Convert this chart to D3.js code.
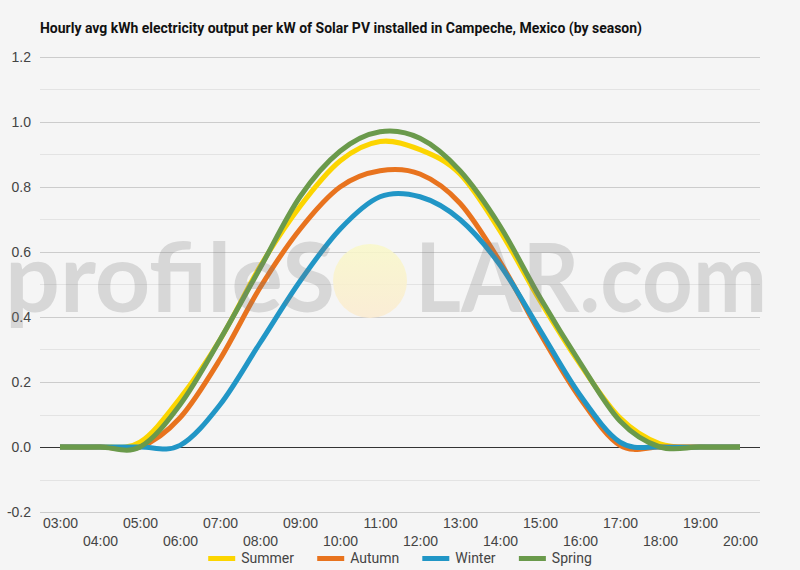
<!DOCTYPE html>
<html>
  <head>
    <meta charset="utf-8">
    <title>Solar PV output in Campeche, Mexico</title>
    <script src="https://cdn.jsdelivr.net/npm/d3@7"></script>
    <style>
      body { margin: 0; background: #f5f5f5; }
      #chart { display: block; font-family: Roboto, "Open Sans", sans-serif; }
      .title { font-size: 14px; font-weight: bold; fill: #111; }
      .tick text { font-size: 14px; fill: #444; }
      .legend text { font-size: 14px; fill: #444; }
      .watermark { font-family: Lato, sans-serif; font-weight: bold; font-size: 96px; fill: #7a7a7a; opacity: 0.24; }
    </style>
  </head>
  <body>
    <svg id="chart" width="800" height="570"></svg>
    <script>
      // chart data
      hours = ["03:00", "04:00", "05:00", "06:00", "07:00", "08:00", "09:00", "10:00", "11:00",
        "12:00", "13:00", "14:00", "15:00", "16:00", "17:00", "18:00", "19:00", "20:00"];
      summer = [0, 0, 0.015, 0.15, 0.33, 0.555, 0.74, 0.88, 0.94, 0.915, 0.84, 0.665, 0.45, 0.255, 0.09, 0.01, 0, 0];
      autumn = [0, 0, 0, 0.09, 0.27, 0.49, 0.67, 0.80, 0.85, 0.84, 0.75, 0.57, 0.35, 0.15, 0.005, 0, 0, 0];
      winter = [0, 0, 0, 0.005, 0.13, 0.32, 0.51, 0.67, 0.77, 0.77, 0.70, 0.56, 0.36, 0.16, 0.015, 0, 0, 0];
      spring = [0, 0, 0, 0.13, 0.33, 0.55, 0.77, 0.91, 0.97, 0.95, 0.85, 0.68, 0.46, 0.26, 0.08, 0, 0, 0];
      seasons = ["Summer", "Autumn", "Winter", "Spring"];
      colours = ["#fcd500", "#e8731e", "#2196c6", "#6a9a4b"];
      yTicks = [-0.2, 0, 0.2, 0.4, 0.6, 0.8, 1.0, 1.2];

      series = [summer, autumn, winter, spring].map(function(values, i) {
        return { name: seasons[i], colour: colours[i], values: values };
      });

      chart = d3.select("#chart");
      margin = { top: 57, right: 40, bottom: 58, left: 40 };
      width = 800;
      height = 570;

      // scales
      x = d3.scalePoint()
        .domain(hours)
        .range([margin.left, width - margin.right])
        .padding(0.5);
      y = d3.scaleLinear()
        .domain([-0.2, 1.2])
        .range([height - margin.bottom, margin.top]);

      // title
      chart.append("text")
        .attr("class", "title")
        .attr("x", 40)
        .attr("y", 33)
        .attr("textLength", 602)
        .attr("lengthAdjust", "spacingAndGlyphs")
        .text("Hourly avg kWh electricity output per kW of Solar PV installed in Campeche, Mexico (by season)");

      // minor gridlines
      chart.append("g")
        .selectAll("line")
          .data(d3.range(-0.1, 1.2, 0.2))
        .enter().append("line")
          .attr("x1", margin.left)
          .attr("x2", width - margin.right)
          .attr("y1", function(d) { return Math.round(y(d)) + 0.5; })
          .attr("y2", function(d) { return Math.round(y(d)) + 0.5; })
          .attr("stroke", "#e3e3e3");

      // y axis with major gridlines
      yAxis = d3.axisLeft(y)
        .tickValues(yTicks)
        .tickFormat(function(d) { return d3.format(".1f")(d).replace("\u2212", "-"); })
        .tickSize(margin.left + margin.right - width)
        .tickPadding(9);
      yAxisGroup = chart.append("g")
        .attr("transform", "translate(" + margin.left + ", 0)")
        .call(yAxis);
      yAxisGroup.select(".domain").remove();
      yAxisGroup.selectAll(".tick line")
        .attr("stroke", function(d) { return d === 0 ? "#333" : "#cccccc"; });
      yAxisGroup.selectAll(".tick text")
        .attr("x", -9);

      // x axis labels, staggered on two rows
      xAxis = d3.axisBottom(x)
        .tickSize(0)
        .tickPadding(0);
      xAxisGroup = chart.append("g")
        .attr("transform", "translate(0, " + (height - margin.bottom) + ")")
        .call(xAxis);
      xAxisGroup.select(".domain").remove();
      xAxisGroup.selectAll(".tick text")
        .attr("dy", null)
        .attr("y", function(d, i) { return i % 2 === 0 ? 16 : 34; });

      // season lines
      line = d3.line()
        .x(function(d, i) { return x(hours[i]); })
        .y(function(d) { return y(d); })
        .curve(d3.curveCardinal);
      chart.append("g")
        .selectAll("path")
          .data(series)
        .enter().append("path")
          .attr("d", function(d) { return line(d.values); })
          .attr("fill", "none")
          .attr("stroke", function(d) { return d.colour; })
          .attr("stroke-width", 5)
          .attr("stroke-linejoin", "round");

      // watermark
      defs = chart.append("defs");
      sun = defs.append("linearGradient")
        .attr("id", "sun")
        .attr("x1", 0).attr("y1", 0).attr("x2", 0).attr("y2", 1);
      sun.append("stop").attr("offset", "0%").attr("stop-color", "#f9f8c8");
      sun.append("stop").attr("offset", "100%").attr("stop-color", "#fbebd0");
      chart.append("circle")
        .attr("cx", 370)
        .attr("cy", 281)
        .attr("r", 37)
        .attr("fill", "url(#sun)")
        .attr("opacity", 0.85);
      chart.append("text")
        .attr("class", "watermark")
        .attr("x", 5)
        .attr("y", 312)
        .attr("textLength", 330)
        .attr("lengthAdjust", "spacingAndGlyphs")
        .text("profileS");
      chart.append("text")
        .attr("class", "watermark")
        .attr("x", 415)
        .attr("y", 312)
        .attr("textLength", 352)
        .attr("lengthAdjust", "spacingAndGlyphs")
        .text("LAR.com");

      // legend
      legend = chart.append("g")
        .attr("class", "legend");
      items = legend.selectAll("g")
          .data(series)
        .enter().append("g");
      items.append("rect")
        .attr("width", 27)
        .attr("height", 5)
        .attr("y", 556)
        .attr("fill", function(d) { return d.colour; });
      items.append("text")
        .attr("x", 33)
        .attr("y", 563)
        .text(function(d) { return d.name; });
      widths = [];
      items.each(function() {
        widths.push(this.getBBox().width);
      });
      total = d3.sum(widths) + 23 * (widths.length - 1);
      offset = width / 2 - total / 2;
      items.attr("transform", function(d, i) {
        let t = "translate(" + offset + ", 0)";
        offset += widths[i] + 23;
        return t;
      });
    </script>
  </body>
</html>
